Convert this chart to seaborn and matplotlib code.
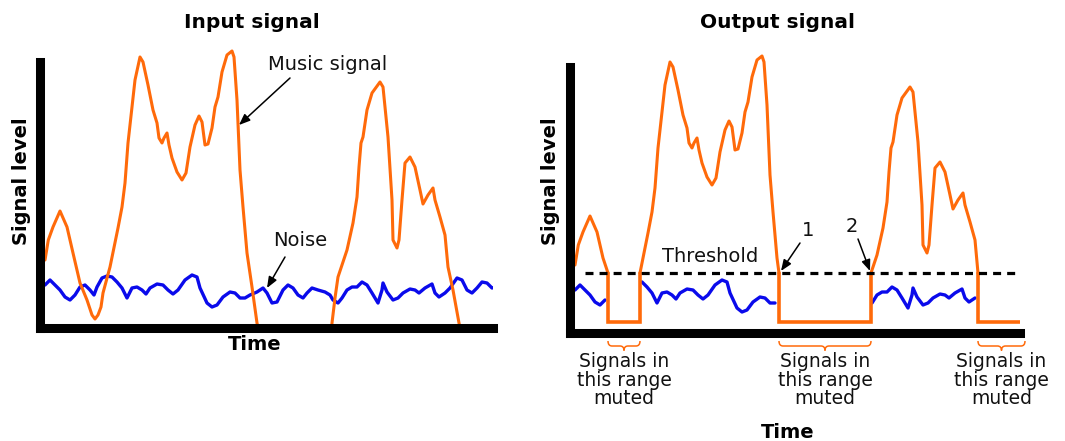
import numpy as np
import matplotlib
matplotlib.use("Agg")
import matplotlib.pyplot as plt
import seaborn as sns
from matplotlib.path import Path
from matplotlib.patches import PathPatch

# ---------------- data (time units / level units) ----------------
music_t = [5, 8.3, 13, 20, 27, 33, 40, 47, 52, 55, 58, 61, 63, 70, 78, 82, 85, 88, 92, 95,
           100, 103, 108, 113, 117, 119, 122, 124, 127, 129, 132, 137, 142, 146, 150, 155,
           159, 162, 165, 168, 172, 175, 178, 182, 187, 192, 194, 197, 200, 203, 207, 212,
           217, 220, 291, 292, 295, 298, 307, 313, 317, 319, 321, 323, 327, 332, 340, 343,
           348, 352, 353, 357, 359, 362, 365, 370, 375, 380, 383, 388, 393, 395, 400, 405,
           408, 413, 419, 421]
music_y = [68, 88, 101, 117, 101, 75, 45, 28, 13, 9, 13, 21, 35, 61, 100, 121, 145, 185, 221, 248,
           271, 266, 243, 218, 205, 190, 185, 190, 195, 183, 170, 156, 148, 155, 181, 203,
           212, 206, 183, 184, 200, 221, 231, 256, 273, 277, 271, 228, 158, 121, 75, 41,
           5, -9, -9, 5, 30, 51, 78, 105, 131, 161, 185, 191, 218, 235, 246, 241,
           191, 128, 88, 80, 88, 128, 165, 171, 161, 138, 124, 133, 140, 128, 111, 93,
           61, 38, 5, -5]

noise_t = [5, 10, 15, 20, 25, 30, 35, 40, 45, 50, 54, 57, 62, 67, 72, 77, 82, 87, 92, 97,
           102, 106, 110, 117, 123, 128, 133, 138, 145, 152, 157, 160, 167, 172, 177, 183,
           190, 195, 200, 205, 210, 217, 223, 227, 232, 237, 243, 248, 253, 258, 263, 267,
           272, 278, 285, 290, 293, 298, 302, 307, 312, 317, 322, 327, 332, 338, 342, 343,
           347, 353, 358, 363, 370, 375, 379, 385, 392, 395, 399, 405, 410, 417, 422, 427,
           432, 437, 442, 447, 452, 456]
noise_y = [43, 48, 43, 38, 31, 28, 33, 41, 43, 38, 33, 41, 50, 52, 51, 46, 40, 30, 40, 41,
           38, 34, 40, 44, 43, 38, 34, 38, 48, 53, 51, 40, 25, 21, 23, 31,
           36, 35, 30, 30, 33, 36, 40, 35, 25, 26, 38, 43, 40, 33, 30, 35,
           40, 38, 36, 33, 28, 25, 30, 38, 41, 41, 46, 43, 35, 25, 38, 45,
           36, 28, 30, 35, 39, 38, 35, 40, 44, 35, 31, 35, 40, 50, 48, 38,
           35, 40, 46, 45, 40, 41]

threshold = 60
threshold_span = [15, 454]
muted_level = 11
mute_start = [38, 209, 408]
mute_end = [70, 301, 455]

titles = ["Input signal", "Output signal"]
ylabel = "Signal level"
xlabel = "Time"
mute_label = "Signals in\nthis range\nmuted"

ORANGE = "#ff6a0a"
BLUE = "#0a0aeb"
INK = "#111111"

# ---------------- figure ----------------
sns.set_theme(style="white")
plt.rcParams["font.family"] = ["DejaVu Sans"]

W, H = 1065, 441
TOP = 290  # level units shown (axis line itself stops at 266)
fig = plt.figure(figsize=(W / 100, H / 100), dpi=100)
axL = fig.add_axes([40 / W, (H - 328) / H, 452.5 / W, TOP / H])
axR = fig.add_axes([570 / W, (H - 333) / H, 450.5 / W, TOP / H])

t = np.array(music_t, float)
y = np.array(music_y, float)
nt = np.array(noise_t, float)
ny = np.array(noise_y, float)

for ax, xmax in ((axL, 452.5), (axR, 450.5)):
    ax.set_xlim(0, xmax)
    ax.set_ylim(0, TOP)
    ax.set_xticks([])
    ax.set_yticks([])
    ax.patch.set_alpha(0)
    for s in ("top", "right"):
        ax.spines[s].set_visible(False)
    for s in ("left", "bottom"):
        ax.spines[s].set_linewidth(6.5)
        ax.spines[s].set_color("black")
        ax.spines[s].set_capstyle("projecting")
        ax.spines[s].set_zorder(5)
    ax.spines["left"].set_bounds(0, 266)

arrow_kw = dict(arrowstyle="-|>,head_length=0.55,head_width=0.22", color="black", lw=1.1,
                shrinkA=0, shrinkB=0)

# ---- input panel ----
sns.lineplot(x=nt, y=ny, ax=axL, color=BLUE, linewidth=2.4, sort=False, estimator=None)
sns.lineplot(x=t, y=y, ax=axL, color=ORANGE, linewidth=2.2, sort=False, estimator=None)

axL.annotate("", xy=(199, 203), xytext=(250, 250), arrowprops=arrow_kw)
axL.annotate("", xy=(227, 40), xytext=(245, 71), arrowprops=arrow_kw)
fig.text(328 / W, 1 - 64 / H, "Music signal", ha="center", va="center", fontsize=14, color=INK)
fig.text(300 / W, 1 - 240 / H, "Noise", ha="center", va="center", fontsize=14, color=INK)

# ---- output panel ----
lo_list = [None] + mute_end[:-1]
for k, hi in enumerate(mute_start):
    lo = lo_list[k]
    if lo is None:
        m = t < hi
        xs = np.r_[t[m], hi]; ys = np.r_[y[m], threshold]
        mn = nt < hi
    else:
        m = (t > lo) & (t < hi)
        xs = np.r_[lo, t[m], hi]; ys = np.r_[threshold, y[m], threshold]
        mn = (nt > lo) & (nt < hi)
    sns.lineplot(x=nt[mn], y=ny[mn], ax=axR, color=BLUE, linewidth=2.4, sort=False, estimator=None)
    sns.lineplot(x=xs, y=ys, ax=axR, color=ORANGE, linewidth=2.2, sort=False, estimator=None)

for s, e in zip(mute_start, mute_end):
    axR.plot([s, s, e, e], [threshold, muted_level, muted_level, threshold],
             color=ORANGE, linewidth=2.6, solid_joinstyle="miter")

axR.hlines(threshold, threshold_span[0], threshold_span[1], colors="black",
           linewidth=2.3, linestyles=(0, (2.5, 1.9)), zorder=4)

axR.annotate("", xy=(211, 62), xytext=(230, 90), arrowprops=arrow_kw)
axR.annotate("", xy=(300, 62), xytext=(288, 94), arrowprops=arrow_kw)
fig.text(808 / W, 1 - 230 / H, "1", ha="center", va="center", fontsize=14, color=INK)
fig.text(852 / W, 1 - 227 / H, "2", ha="center", va="center", fontsize=14, color=INK)
fig.text(710 / W, 1 - 257 / H, "Threshold", ha="center", va="center", fontsize=14, color=INK)

# braces + labels under muted ranges
for s, e in zip(mute_start, mute_end):
    mid = (s + e) / 2
    r = 4
    verts = [(s, -8), (s, -13), (s + r, -13), (mid - r, -13), (mid, -13), (mid, -17.5),
             (mid, -13), (mid + r, -13), (e - r, -13), (e, -13), (e, -8)]
    codes = [Path.MOVETO, Path.CURVE3, Path.CURVE3, Path.LINETO, Path.CURVE3, Path.CURVE3,
             Path.CURVE3, Path.CURVE3, Path.LINETO, Path.CURVE3, Path.CURVE3]
    patch = PathPatch(Path(verts, codes), fill=False, edgecolor=ORANGE, lw=1.1, clip_on=False)
    axR.add_patch(patch)
    axR.text(mid, -47, mute_label, ha="center", va="center", fontsize=13.5,
             linespacing=0.95, color=INK, clip_on=False)

# titles and axis labels
fig.text(252 / W, 1 - 23 / H, titles[0], ha="center", va="center", fontsize=14.5,
         fontweight="bold", color="black")
fig.text(777 / W, 1 - 23 / H, titles[1], ha="center", va="center", fontsize=14.5,
         fontweight="bold", color="black")
fig.text(22 / W, 1 - 181 / H, ylabel, ha="center", va="center", rotation=90, fontsize=14,
         fontweight="bold", color="black")
fig.text(551 / W, 1 - 181 / H, ylabel, ha="center", va="center", rotation=90, fontsize=14,
         fontweight="bold", color="black")
fig.text(255 / W, 1 - 345 / H, xlabel, ha="center", va="center", fontsize=14,
         fontweight="bold", color="black")
fig.text(788 / W, 1 - 432 / H, xlabel, ha="center", va="center", fontsize=14,
         fontweight="bold", color="black")

fig.savefig("out.png", dpi=100, facecolor="white")
